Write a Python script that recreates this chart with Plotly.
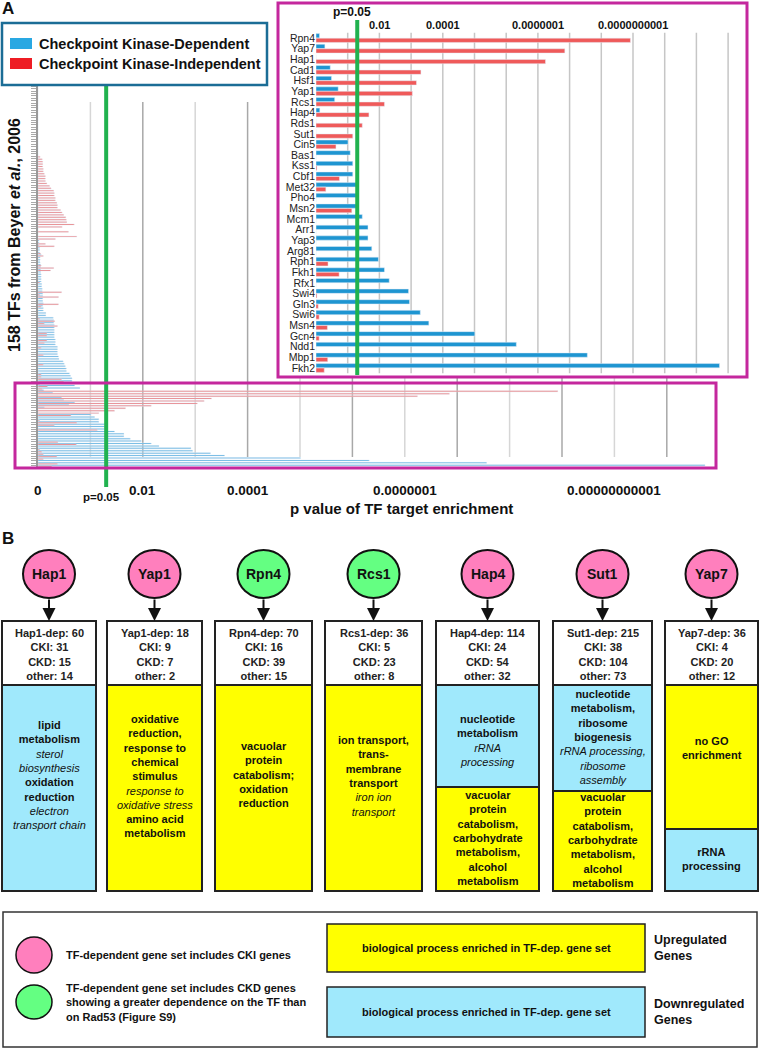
import plotly.graph_objects as go

W, H = 760, 1050
def px(x): return x / W
def py(y): return 1 - y / H

FONT = "Liberation Sans, Arial, sans-serif"

# ---------------- data (values = -log10 p) ----------------
inset_tfs = ["Rpn4", "Yap7", "Hap1", "Cad1", "Hsf1", "Yap1", "Rcs1", "Hap4", "Rds1", "Sut1",
             "Cin5", "Bas1", "Kss1", "Cbf1", "Met32", "Pho4", "Msn2", "Mcm1", "Arr1", "Yap3",
             "Arg81", "Rph1", "Fkh1", "Rfx1", "Swi4", "Gln3", "Swi6", "Msn4", "Gcn4", "Ndd1",
             "Mbp1", "Fkh2"]
inset_ckd = [0.11, 0.28, 0.0, 0.45, 0.49, 0.70, 0.59, 0.12, 0.0, 0.0,
             1.01, 1.08, 1.16, 1.16, 1.27, 1.27, 1.27, 1.46, 1.64, 1.64,
             1.76, 1.97, 2.16, 2.31, 2.92, 2.95, 3.29, 3.56, 5.01, 6.32,
             8.56, 12.73]
inset_cki = [9.92, 7.85, 7.24, 3.31, 3.17, 3.04, 2.16, 1.67, 1.46, 1.16,
             0.63, 0.0, 0.03, 0.74, 0.31, 0.0, 1.13, 0.0, 0.0, 0.0,
             0.0, 0.38, 0.73, 0.0, 0.03, 0.07, 0.10, 0.36, 0.10, 0.0,
             0.37, 0.26]

# remaining 126 TFs of the 158 (top part of main panel), top to bottom
main_ckd_upper = [0.0] * 29 + [
    0.0, 0.0, 0.0, 0.0, 0.0, 0.0, 0.0, 0.0, 0.0, 0.0,
    0.0, 0.0, 0.0, 0.0, 0.0, 0.0, 0.0, 0.0, 0.0, 0.0,
    0.0, 0.0, 0.0, 0.0, 0.0, 0.0, 0.0, 0.0, 0.0, 0.0,
    0.0, 0.0, 0.0, 0.0, 0.0, 0.02, 0.02, 0.02, 0.03, 0.03,
    0.03, 0.06, 0.04, 0.04, 0.04, 0.05, 0.05, 0.05, 0.05, 0.06,
    0.06, 0.06, 0.06, 0.07, 0.07, 0.08, 0.08, 0.09, 0.09, 0.09,
    0.09, 0.10, 0.09, 0.10, 0.10, 0.15, 0.15, 0.29, 0.30, 0.30,
    0.31, 0.31, 0.31, 0.31, 0.31, 0.31, 0.33, 0.33, 0.33, 0.37,
    0.37, 0.37, 0.37, 0.39, 0.40, 0.48, 0.50, 0.52, 0.54, 0.54,
    0.60, 0.62, 0.65, 0.65, 0.67, 0.70, 0.80]
main_cki_upper = [0.0] * 29 + [
    0.04, 0.08, 0.09, 0.09, 0.09, 0.10, 0.10, 0.12, 0.14, 0.14,
    0.14, 0.17, 0.22, 0.25, 0.30, 0.31, 0.31, 0.33, 0.33, 0.36,
    0.37, 0.37, 0.43, 0.46, 0.49, 0.53, 0.54, 0.55, 0.69, 0.46,
    0.0, 0.58, 0.0, 0.74, 0.33, 0.0, 0.14, 0.31, 0.0, 0.0,
    0.05, 0.10, 0.0, 0.0, 0.0, 0.06, 0.30, 0.24, 0.0, 0.0,
    0.0, 0.0, 0.03, 0.0, 0.0, 0.0, 0.45, 0.03, 0.39, 0.0,
    0.0, 0.39, 0.06, 0.0, 0.0, 0.0, 0.0, 0.03, 0.32, 0.12,
    0.37, 0.0, 0.0, 0.17, 0.17, 0.0, 0.17, 0.12, 0.0, 0.06,
    0.0, 0.0, 0.10, 0.0, 0.0, 0.0, 0.10, 0.0, 0.0, 0.0,
    0.06, 0.06, 0.45, 0.49, 0.03, 0.18, 0.08]

main_rows = [f"TF{i:03d}" for i in range(1, len(main_ckd_upper) + 1)] + inset_tfs
main_ckd = main_ckd_upper + inset_ckd
main_cki = main_cki_upper + inset_cki

main_tick_vals = [0, 2, 4, 7, 11]
main_tick_text = ["0", "0.01", "0.0001", "0.0000001", "0.00000000001"]
inset_tick_vals = [2, 4, 7, 10]
inset_tick_text = ["0.01", "0.0001", "0.0000001", "0.0000000001"]
p_cut = 1.30103  # -log10(0.05)

# panel B data
b_tfs = ["Hap1", "Yap1", "Rpn4", "Rcs1", "Hap4", "Sut1", "Yap7"]
b_dep = [60, 18, 70, 36, 114, 215, 36]
b_cki = [31, 9, 16, 5, 24, 38, 4]
b_ckd = [15, 7, 39, 23, 54, 104, 20]
b_other = [14, 2, 15, 8, 32, 73, 12]
b_type = ["CKI", "CKI", "CKD", "CKD", "CKI", "CKI", "CKI"]
b_go = [
    [("down", "<b>lipid<br>metabolism</b><br><i>sterol<br>biosynthesis</i><br><b>oxidation<br>reduction</b><br><i>electron<br>transport chain</i>")],
    [("up", "<b>oxidative<br>reduction,<br>response to<br>chemical<br>stimulus</b><br><i>response to<br>oxidative stress</i><br><b>amino acid<br>metabolism</b>")],
    [("up", "<b>vacuolar<br>protein<br>catabolism;<br>oxidation<br>reduction</b>")],
    [("up", "<b>ion transport,<br>trans-<br>membrane<br>transport</b><br><i>iron ion<br>transport</i>")],
    [("down", "<b>nucleotide<br>metabolism</b><br><i>rRNA<br>processing</i>"),
     ("up", "<b>vacuolar<br>protein<br>catabolism,<br>carbohydrate<br>metabolism,<br>alcohol<br>metabolism</b>")],
    [("down", "<b>nucleotide<br>metabolism,<br>ribosome<br>biogenesis</b><br><i>rRNA processing,<br>ribosome<br>assembly</i>"),
     ("up", "<b>vacuolar<br>protein<br>catabolism,<br>carbohydrate<br>metabolism,<br>alcohol<br>metabolism</b>")],
    [("up", "<b>no GO<br>enrichment</b>"),
     ("down", "<b>rRNA<br>processing</b>")],
]

# ---------------- styles ----------------
BLUE_MAIN, RED_MAIN = "#2a9ad8", "#ec5050"
BLUE_IN, RED_IN = "#1e95d1", "#ef5a5a"
GREEN = "#21b24f"
MAGENTA = "#c4279d"
PINK, LGREEN = "#ff7fbd", "#64ff82"
YELLOW, LBLUE = "#ffff00", "#a0e9fc"

fig = go.Figure()
fig.add_trace(go.Bar(y=main_rows, x=main_ckd, orientation="h", marker_color=BLUE_MAIN,
                     name="Checkpoint Kinase-Dependent", xaxis="x", yaxis="y", showlegend=False))
fig.add_trace(go.Bar(y=main_rows, x=main_cki, orientation="h", marker_color=RED_MAIN,
                     name="Checkpoint Kinase-Independent", xaxis="x", yaxis="y", showlegend=False))
fig.add_trace(go.Bar(y=inset_tfs, x=inset_ckd, orientation="h", marker_color=BLUE_IN,
                     name="CKD", xaxis="x2", yaxis="y2", showlegend=False))
fig.add_trace(go.Bar(y=inset_tfs, x=inset_cki, orientation="h", marker_color=RED_IN,
                     name="CKI", xaxis="x2", yaxis="y2", showlegend=False))

shapes, anns = [], []

def ann(x, y, text, size=11, xanchor="center", yanchor="middle", align="center", color="#111", **kw):
    d = dict(x=px(x), y=py(y), xref="paper", yref="paper", text=text, showarrow=False,
             font=dict(family=FONT, size=size, color=color), xanchor=xanchor, yanchor=yanchor, align=align)
    d.update(kw)
    anns.append(d)

def rect(x0, y0, x1, y1, fill=None, line="#111", width=2, layer="above", typ="rect"):
    shapes.append(dict(type=typ, xref="paper", yref="paper", x0=px(x0), x1=px(x1), y0=py(y1), y1=py(y0),
                       fillcolor=fill if fill else "rgba(0,0,0,0)",
                       line=dict(color=line, width=width), layer=layer))

# main gridlines (alternating shades); those under the inset are hidden
for k in range(1, 13):
    top = 102 if k <= 4 else 377
    shapes.append(dict(type="line", xref="x", yref="paper", x0=k, x1=k, y0=py(457), y1=py(top),
                       line=dict(color="#d6d6d6" if k % 2 else "#a8a8a8", width=1.5), layer="below"))
# inset gridlines
for k in range(1, 14):
    shapes.append(dict(type="line", xref="x2", yref="y2 domain", x0=k, x1=k, y0=0, y1=1,
                       line=dict(color="#c6c6c6", width=1.5), layer="below"))

# green p=0.05 lines
shapes.append(dict(type="line", xref="x", yref="paper", x0=p_cut, x1=p_cut, y0=py(487), y1=py(86),
                   line=dict(color=GREEN, width=4), layer="above"))
shapes.append(dict(type="line", xref="x2", yref="paper", x0=p_cut, x1=p_cut, y0=py(375), y1=py(20),
                   line=dict(color=GREEN, width=4), layer="above"))

# magenta boxes
rect(278, 3, 747, 377, line=MAGENTA, width=3)
rect(15, 383, 716, 468, line=MAGENTA, width=3)

# legend box of A
rect(2, 23, 267, 85, fill="white", line="#1b6d96", width=2.5)
rect(10, 38, 32, 49, fill="#29a8e2", line="#29a8e2", width=0)
rect(10, 58, 32, 69, fill="#ee1c24", line="#ee1c24", width=0)
ann(37, 44, "<b>Checkpoint Kinase-Dependent</b>", size=14.5, xanchor="left")
ann(37, 64, "<b>Checkpoint Kinase-Independent</b>", size=14.5, xanchor="left")

# panel labels
ann(8, 8, "<b>A</b>", size=17)
ann(8, 538, "<b>B</b>", size=17)

# main axis labels
for v, t in zip(main_tick_vals, main_tick_text):
    anns.append(dict(x=v, y=py(490), xref="x", yref="paper", text=f"<b>{t}</b>", showarrow=False,
                     font=dict(family=FONT, size=13.5, color="#111"), xanchor="center", yanchor="middle"))
anns.append(dict(x=p_cut - 0.08, y=py(497), xref="x", yref="paper", text="<b>p=0.05</b>", showarrow=False,
                 font=dict(family=FONT, size=11.5, color="#111"), xanchor="center", yanchor="middle"))
ann(401, 508, "<b>p value of TF target enrichment</b>", size=15)
ann(15, 235, "<b>158 TFs from Beyer <i>et al.</i>, 2006</b>", size=16, textangle=-90)

# inset axis labels
for v, t in zip(inset_tick_vals, inset_tick_text):
    anns.append(dict(x=v, y=py(25), xref="x2", yref="paper", text=f"<b>{t}</b>", showarrow=False,
                     font=dict(family=FONT, size=11, color="#111"), xanchor="center", yanchor="middle"))
anns.append(dict(x=p_cut - 0.15, y=py(12), xref="x2", yref="paper", text="<b>p=0.05</b>", showarrow=False,
                 font=dict(family=FONT, size=12, color="#111"), xanchor="center", yanchor="middle"))

# ---------------- panel B ----------------
box_x = [(2, 96), (107, 202), (215, 312), (325, 422), (436, 539), (553, 652), (665, 758)]
seg_layout = [
    [(685, 891, 775)],
    [(685, 891, 776)],
    [(685, 891, 774)],
    [(685, 891, 776)],
    [(685, 787, 740), (787, 891, 838)],
    [(685, 791, 737), (791, 891, 840)],
    [(685, 829, 748), (829, 891, 859)],
]
for i, tf in enumerate(b_tfs):
    x0, x1 = box_x[i]
    cx = (x0 + x1) / 2
    rect(cx - 26, 550, cx + 26, 598, fill=PINK if b_type[i] == "CKI" else LGREEN, line="#111", width=2, typ="circle")
    ann(cx, 574, f"<b>{tf}</b>", size=14)
    anns.append(dict(x=px(cx), y=py(621), xref="paper", yref="paper", ax=0, ay=-23, text="",
                     showarrow=True, arrowhead=2, arrowsize=1.3, arrowwidth=2, arrowcolor="#111", standoff=0))
    rect(x0, 621, x1, 685, fill="white", line="#222", width=2)
    ann(cx, 654.5, f"<b>{tf}-dep: {b_dep[i]}<br>CKI: {b_cki[i]}<br>CKD: {b_ckd[i]}<br>other: {b_other[i]}</b>",
        size=11, color="#222")
    for (kind, txt), (s0, s1, ty) in zip(b_go[i], seg_layout[i]):
        rect(x0, s0, x1, s1, fill=YELLOW if kind == "up" else LBLUE, line="#222", width=2)
        ann(cx, ty, txt, size=11)

# legend of B
rect(3, 912, 757, 1047, line="#333", width=1.5)
rect(16, 937, 52, 973, fill=PINK, line="#111", width=1.5, typ="circle")
rect(16, 985, 52, 1019, fill=LGREEN, line="#111", width=1.5, typ="circle")
ann(64, 955, "<b>TF-dependent gene set includes CKI genes</b>", size=11, xanchor="left", align="left")
ann(64, 1002, "<b>TF-dependent gene set includes CKD genes<br>showing a greater dependence on the TF than<br>on Rad53 (Figure S9)</b>",
    size=11, xanchor="left", align="left")
rect(327, 924, 645, 972, fill=YELLOW, line="#222", width=1.5)
rect(327, 987, 645, 1037, fill=LBLUE, line="#222", width=1.5)
ann(486, 948, "<b>biological process enriched in TF-dep. gene set</b>", size=11)
ann(486, 1012, "<b>biological process enriched in TF-dep. gene set</b>", size=11)
ann(652, 948, "<b>Upregulated<br>Genes</b>", size=12.5, xanchor="left", align="left")
ann(652, 1012, "<b>Downregulated<br>Genes</b>", size=12.5, xanchor="left", align="left")

# ---------------- axes ----------------
main_xr = (740 - 38) / 52.4
inset_xr = (745 - 316) / 31.7
fig.update_layout(
    width=W, height=H, margin=dict(l=0, r=0, t=0, b=0),
    paper_bgcolor="white", plot_bgcolor="rgba(0,0,0,0)",
    barmode="group", bargap=0.15, bargroupgap=0.05,
    showlegend=False,
    xaxis=dict(domain=[px(38), px(740)], range=[0, main_xr], anchor="y",
               showgrid=False, zeroline=False, showline=False, showticklabels=False),
    yaxis=dict(domain=[py(467), py(85)], anchor="x", autorange="reversed", type="category",
               showgrid=False, zeroline=False, showline=True, linecolor="#999", linewidth=1.5,
               ticks="outside", ticklen=5, tickcolor="#aaa", tickwidth=1,
               tickmode="array", tickvals=main_rows, showticklabels=False),
    xaxis2=dict(domain=[px(316), px(745)], range=[0, inset_xr], anchor="y2",
                showgrid=False, zeroline=False, showline=False, showticklabels=False),
    yaxis2=dict(domain=[py(373.3), py(32.7)], anchor="x2", autorange="reversed", type="category",
                showgrid=False, zeroline=False, showline=False, ticks="",
                tickmode="array", tickvals=inset_tfs, ticktext=inset_tfs,
                tickfont=dict(family=FONT, size=10.5, color="#222")),
    shapes=shapes, annotations=anns,
)

fig.write_html("out.html", config={"displayModeBar": False},
               post_script="document.body.style.margin='0';document.body.style.padding='0';")
